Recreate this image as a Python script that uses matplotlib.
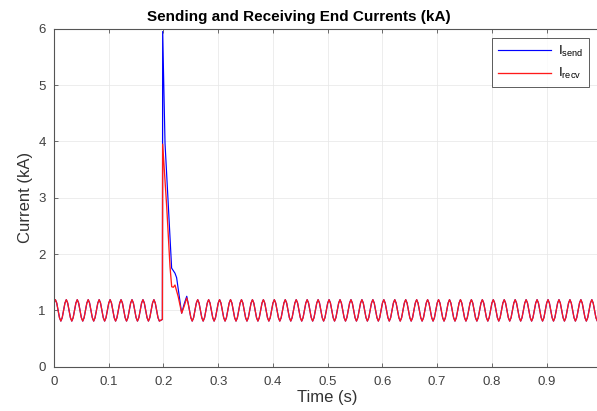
import numpy as np
import matplotlib
matplotlib.use("Agg")
import matplotlib.pyplot as plt

plt.rcParams['font.family'] = ['Liberation Sans', 'DejaVu Sans']
plt.rcParams['mathtext.default'] = 'regular'

# ---- data ----
# steady-state samples of one 20 ms cycle (2.5 ms apart), kA
cycle_vals = [1.13, 1.19, 1.13, 1.00, 0.87, 0.81, 0.87, 1.00]
sample_dt = 0.0025
t_end = 1.0
t_fault_start = 0.195     # last pre-fault sample before this
t_post_start = 0.245      # steady state resumes here

# fault transient (t in s, current in kA)
t_send_tr = [0.198, 0.1985, 0.2028, 0.2149, 0.2210, 0.2240, 0.2332, 0.2380, 0.2425]
i_send_tr = [0.84, 5.95, 3.97, 1.75, 1.66, 1.58, 0.95, 1.12, 1.25]
t_recv_tr = [0.198, 0.1985, 0.2059, 0.2119, 0.2150, 0.2180, 0.2210, 0.2270, 0.2333, 0.2380, 0.2425]
i_recv_tr = [0.84, 3.95, 2.84, 1.78, 1.42, 1.41, 1.45, 1.24, 0.95, 1.08, 1.22]

x_ticks = [0, 0.1, 0.2, 0.3, 0.4, 0.5, 0.6, 0.7, 0.8, 0.9]
x_tick_labels = ['0', '0.1', '0.2', '0.3', '0.4', '0.5', '0.6', '0.7', '0.8', '0.9']
y_ticks = [0, 1, 2, 3, 4, 5, 6]

# ---- build the series ----
n = int(round(t_end / sample_dt)) + 1
t_all = np.arange(n) * sample_dt
i_all = np.resize(np.array(cycle_vals), n)
pre = t_all < t_fault_start
post = t_all >= t_post_start

t_send = np.concatenate([t_all[pre], t_send_tr, t_all[post]])
i_send = np.concatenate([i_all[pre], i_send_tr, i_all[post]])
t_recv = np.concatenate([t_all[pre], t_recv_tr, t_all[post]])
i_recv = np.concatenate([i_all[pre], i_recv_tr, i_all[post]])

# ---- plot ----
fig = plt.figure(figsize=(5.97, 4.11), dpi=100)
ax = fig.add_axes([54 / 597, 1 - 366.7 / 411, 547.4 / 597, 338 / 411])

ax.plot(t_send, i_send, color=(0, 0, 1), lw=0.85, label='I$_{send}$')
ax.plot(t_recv, i_recv, color=(1, 0.1, 0.1), lw=0.95, label='I$_{recv}$')

ax.set_xlim(0, 1.0)
ax.set_ylim(0, 6)
ax.set_xticks(x_ticks)
ax.set_xticklabels(x_tick_labels)
ax.set_yticks(y_ticks)

edge = '#555555'
for s in ax.spines.values():
    s.set_color(edge)
    s.set_linewidth(0.8)
ax.tick_params(direction='in', length=3, width=0.6, colors=edge,
               labelcolor='#404040', labelsize=9.5, top=True, right=True)
ax.tick_params(axis='x', pad=7)
ax.tick_params(axis='y', pad=6)
ax.grid(True, color='#e6e6e6', lw=0.5)
ax.set_axisbelow(True)

fig.text(0.5, 1 - 17 / 411, 'Sending and Receiving End Currents (kA)',
         fontsize=11, fontweight='bold', ha='center', va='center')
ax.set_xlabel('Time (s)', fontsize=12, color='#333333', labelpad=1)
ax.set_ylabel('Current (kA)', fontsize=12, color='#333333', labelpad=4)

leg = ax.legend(loc='upper right', bbox_to_anchor=(0.977, 0.9725),
                borderaxespad=0, fontsize=9.5, handlelength=4.0,
                frameon=True, fancybox=False, borderpad=0.45,
                labelspacing=0.55, handletextpad=0.5)
leg.get_frame().set_edgecolor('#333333')
leg.get_frame().set_linewidth(0.7)

fig.savefig('out.png', dpi=100)
